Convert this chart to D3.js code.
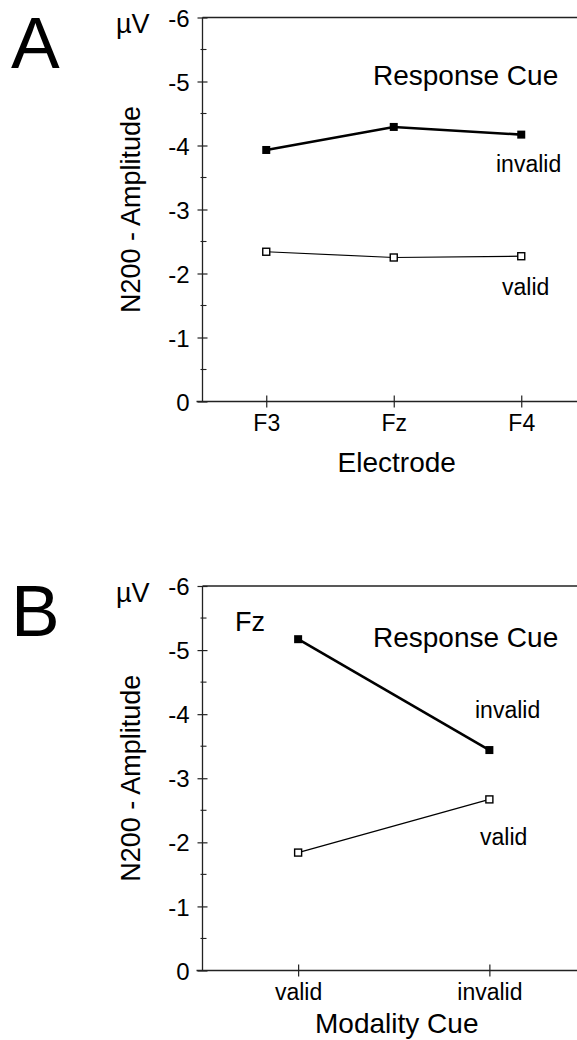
<!DOCTYPE html>
<html>
<head>
<meta charset="utf-8">
<script src="https://cdn.jsdelivr.net/npm/d3@7"></script>
<style>
  body { margin: 0; background: #fff; }
  text { font-family: "Liberation Sans", Arial, Helvetica, sans-serif; fill: #000; }
</style>
</head>
<body>
<svg id="chart" width="577" height="1040"></svg>
<script>
// panel A: response cue by electrode
const electrodes = ["F3", "Fz", "F4"];
const invalidA = [-3.93, -4.29, -4.17];
const validA = [-2.34, -2.25, -2.27];

// panel B: response cue by modality cue (Fz)
const modalityCues = ["valid", "invalid"];
const invalidB = [-5.17, -3.44];
const validB = [-1.84, -2.67];

const yTicks = [0, -1, -2, -3, -4, -5, -6];
const yMinorTicks = [-0.5, -1.5, -2.5, -3.5, -4.5, -5.5];

const svg = d3.select("#chart");
const axisX = 202.5, rangeEnd = 585;
const fontFam = "'Liberation Sans', Arial, sans-serif";

function drawPanel(opt) {
    const g = svg.append("g");

    const x = d3.scalePoint()
        .domain(opt.categories)
        .range([axisX, rangeEnd])
        .padding(0.5);

    const y = d3.scaleLinear()
        .domain([0, -6])
        .range([opt.bottom, opt.top]);

    // top frame line
    g.append("line")
        .attr("x1", axisX).attr("x2", 577)
        .attr("y1", y(-6)).attr("y2", y(-6))
        .attr("stroke", "#222").attr("stroke-width", 1.3);

    // y axis
    const yAxis = g.append("g")
        .attr("transform", `translate(${axisX},0)`)
        .call(d3.axisLeft(y).tickValues(yTicks).tickSize(5));
    yAxis.select(".domain").remove();
    yAxis.selectAll(".tick line").attr("x2", 5).attr("x1", -5).attr("stroke", "#222").attr("stroke-width", 1.2);
    yAxis.selectAll(".tick text")
        .attr("x", -13)
        .attr("dy", "0.36em")
        .style("font-size", "24px")
        .style("font-family", fontFam)
        .text(d => d === 0 ? "0" : "-" + Math.abs(d));

    g.selectAll(".minor")
        .data(yMinorTicks)
        .join("line")
        .attr("x1", axisX - 2).attr("x2", axisX + 4)
        .attr("y1", d => y(d)).attr("y2", d => y(d))
        .attr("stroke", "#222").attr("stroke-width", 1.1);

    g.append("line")
        .attr("x1", axisX).attr("x2", axisX)
        .attr("y1", y(-6)).attr("y2", y(0))
        .attr("stroke", "#222").attr("stroke-width", 1.3);

    // x axis
    g.append("line")
        .attr("x1", axisX - 6).attr("x2", 577)
        .attr("y1", y(0)).attr("y2", y(0))
        .attr("stroke", "#222").attr("stroke-width", 1.3);

    const xAxis = g.append("g")
        .attr("transform", `translate(0,${y(0)})`)
        .call(d3.axisBottom(x).tickSize(6));
    xAxis.select(".domain").remove();
    xAxis.selectAll(".tick line").attr("y1", -6).attr("y2", 6).attr("stroke", "#222").attr("stroke-width", 1.2);
    xAxis.selectAll(".tick text")
        .attr("y", 0)
        .attr("dy", 29)
        .style("font-size", "23px")
        .style("font-family", fontFam);

    // axis titles
    g.append("text")
        .attr("x", (axisX + rangeEnd) / 2 + 3)
        .attr("y", opt.titleY)
        .attr("text-anchor", "middle")
        .attr("font-size", "28px")
        .text(opt.xTitle);

    g.append("text")
        .attr("transform", "rotate(-90)")
        .attr("x", -(opt.top + opt.bottom) / 2)
        .attr("y", 140)
        .attr("text-anchor", "middle")
        .attr("font-size", "27px")
        .text("N200 - Amplitude");

    g.append("text")
        .attr("x", 116)
        .attr("y", y(-6) + 15.5)
        .attr("font-size", "27px")
        .text("µV");

    g.append("text")
        .attr("x", 11)
        .attr("y", y(-6) + 50)
        .attr("font-size", "73px")
        .text(opt.letter);

    // series
    const line = d3.line()
        .x((d, i) => x(opt.categories[i]))
        .y(d => y(d));

    g.append("path")
        .datum(opt.valid)
        .attr("d", line)
        .attr("fill", "none")
        .attr("stroke", "#000")
        .attr("stroke-width", 1.2);

    g.append("path")
        .datum(opt.invalid)
        .attr("d", line)
        .attr("fill", "none")
        .attr("stroke", "#000")
        .attr("stroke-width", 2.6);

    g.selectAll(".pt-valid")
        .data(opt.valid)
        .join("rect")
        .attr("x", (d, i) => x(opt.categories[i]) - 3.5)
        .attr("y", d => y(d) - 3.5)
        .attr("width", 7).attr("height", 7)
        .attr("fill", "#fff")
        .attr("stroke", "#000")
        .attr("stroke-width", 1.4);

    g.selectAll(".pt-invalid")
        .data(opt.invalid)
        .join("rect")
        .attr("x", (d, i) => x(opt.categories[i]) - 4)
        .attr("y", d => y(d) - 4)
        .attr("width", 8).attr("height", 8)
        .attr("fill", "#000");

    // annotations
    opt.notes.forEach(n => {
        g.append("text")
            .attr("x", n.x)
            .attr("y", n.y)
            .attr("font-size", n.size)
            .text(n.text);
    });
}

drawPanel({
    letter: "A",
    top: 17.5, bottom: 401.5,
    categories: electrodes,
    invalid: invalidA, valid: validA,
    xTitle: "Electrode",
    titleY: 472,
    notes: [
        { text: "Response Cue", x: 373, y: 85, size: "28px" },
        { text: "invalid", x: 496, y: 172, size: "23px" },
        { text: "valid", x: 502, y: 295, size: "23px" }
    ]
});

drawPanel({
    letter: "B",
    top: 586, bottom: 970.5,
    categories: modalityCues,
    invalid: invalidB, valid: validB,
    xTitle: "Modality Cue",
    titleY: 1033,
    notes: [
        { text: "Fz", x: 235, y: 631, size: "27px" },
        { text: "Response Cue", x: 373, y: 647, size: "28px" },
        { text: "invalid", x: 475, y: 718, size: "23px" },
        { text: "valid", x: 480, y: 845, size: "23px" }
    ]
});
</script>
</body>
</html>
